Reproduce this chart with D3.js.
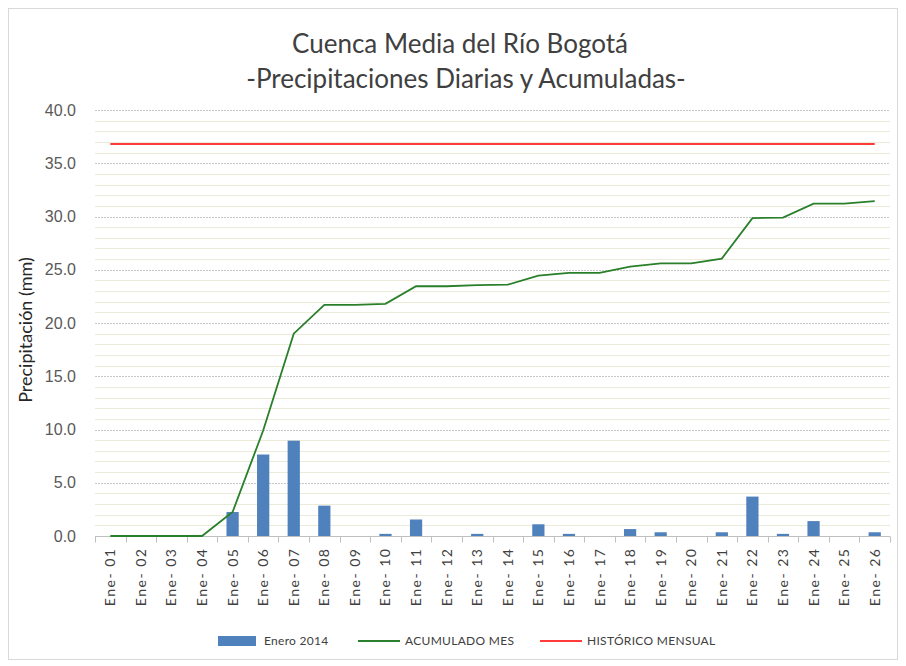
<!DOCTYPE html>
<html lang="es">
<head>
<meta charset="UTF-8">
<title>Cuenca Media del Río Bogotá</title>
<script src="https://d3js.org/d3.v7.min.js"></script>
<style>
  body { margin: 0; background: #fff; }
  svg { display: block; font-family: Lato, "Open Sans", sans-serif; }
</style>
</head>
<body>
<div id="chart"></div>
<script>
// Data
const days = ["Ene- 01","Ene- 02","Ene- 03","Ene- 04","Ene- 05","Ene- 06","Ene- 07","Ene- 08","Ene- 09",
  "Ene- 10","Ene- 11","Ene- 12","Ene- 13","Ene- 14","Ene- 15","Ene- 16","Ene- 17","Ene- 18","Ene- 19",
  "Ene- 20","Ene- 21","Ene- 22","Ene- 23","Ene- 24","Ene- 25","Ene- 26"];
const daily = [0, 0, 0, 0, 2.25, 7.65, 8.95, 2.85, 0, 0.2, 1.55, 0, 0.2, 0, 1.1, 0.2, 0, 0.65, 0.35, 0, 0.35, 3.7, 0.2, 1.4, 0, 0.35];
const acumulado = [0, 0, 0, 0, 2.25, 9.9, 19.0, 21.7, 21.7, 21.8, 23.45, 23.45, 23.55, 23.6, 24.45, 24.7, 24.7, 25.3, 25.6, 25.6, 26.05, 29.85, 29.9, 31.2, 31.2, 31.45];
const historico = 36.8;
const yTicks = [0, 5, 10, 15, 20, 25, 30, 35, 40];

const W = 906, H = 666;
const margin = {top: 110, right: 16, bottom: 130, left: 95};
const width = 890 - margin.left;
const height = 536 - margin.top;

const svg = d3.select("#chart").append("svg")
  .attr("width", W).attr("height", H);

// outer frame
svg.append("rect")
  .attr("x", 8.5).attr("y", 8.5).attr("width", 889).attr("height", 651)
  .attr("fill", "none").attr("stroke", "#d9d9d9");

// title
const title = svg.append("text")
  .attr("text-anchor", "middle")
  .attr("fill", "#404040")
  .style("font-size", "26px");
title.append("tspan").attr("x", 460).attr("y", 53).text("Cuenca Media del Río Bogotá");
title.append("tspan").attr("x", 466).attr("y", 88).text("-Precipitaciones Diarias y Acumuladas-");

const g = svg.append("g").attr("transform", `translate(${margin.left},${margin.top})`);

const x = d3.scaleBand().domain(days).range([0, width]).paddingInner(0.6).paddingOuter(0.3);
const xPoint = d3.scalePoint().domain(days).range([0, width]).padding(0.5);
const y = d3.scaleLinear().domain([0, 40]).range([height, 0]);

// minor gridlines
g.append("g")
  .selectAll("line")
  .data(d3.range(1, 41).filter(v => v % 5 !== 0))
  .join("line")
  .attr("x1", 0).attr("x2", width)
  .attr("y1", d => Math.round(y(d)) + 0.5).attr("y2", d => Math.round(y(d)) + 0.5)
  .attr("stroke", "#ecebd9").attr("stroke-width", 1);

// major gridlines
g.append("g")
  .selectAll("line")
  .data(yTicks.slice(1))
  .join("line")
  .attr("x1", 0).attr("x2", width)
  .attr("y1", d => Math.round(y(d)) + 0.5).attr("y2", d => Math.round(y(d)) + 0.5)
  .attr("stroke", "#c8c8c8").attr("stroke-dasharray", "2,1");

// y axis (labels only)
const yAxis = g.append("g")
  .call(d3.axisLeft(y).tickValues(yTicks).tickFormat(d3.format(".1f")).tickSize(0).tickPadding(19));
yAxis.select(".domain").remove();
yAxis.selectAll("text").attr("fill", "#595959").style("font-size", "16px");

// bars
g.append("g")
  .selectAll("rect")
  .data(daily.map((v, i) => ({day: days[i], v})))
  .join("rect")
  .attr("x", d => x(d.day))
  .attr("y", d => y(d.v))
  .attr("width", x.bandwidth())
  .attr("height", d => height - y(d.v))
  .attr("fill", "#4f81bd");

// x axis with ticks at category boundaries
const xb = d3.scaleBand().domain(days).range([0, width]);
const xAxis = g.append("g").attr("transform", `translate(0,${height + 0.5})`);
xAxis.append("line").attr("x1", 0).attr("x2", width).attr("stroke", "#bfbfbf");
xAxis.selectAll(".tk")
  .data(d3.range(days.length + 1))
  .join("line")
  .attr("class", "tk")
  .attr("x1", i => Math.round(i * xb.step()) + 0.5)
  .attr("x2", i => Math.round(i * xb.step()) + 0.5)
  .attr("y1", 0).attr("y2", 6)
  .attr("stroke", "#bfbfbf");
xAxis.selectAll(".lbl")
  .data(days)
  .join("text")
  .attr("class", "lbl")
  .attr("transform", d => `translate(${xPoint(d) + 5},11) rotate(-90)`)
  .attr("text-anchor", "end")
  .attr("fill", "#404040")
  .style("font-size", "14px")
  .style("letter-spacing", "1.5px")
  .text(d => d);

// lines
const line = d3.line().x((d, i) => xPoint(days[i])).y(d => y(d));
g.append("path")
  .datum(days.map(() => historico))
  .attr("d", line)
  .attr("fill", "none").attr("stroke", "#ff3b3b").attr("stroke-width", 2);
g.append("path")
  .datum(acumulado)
  .attr("d", line)
  .attr("fill", "none").attr("stroke", "#2a7f2a").attr("stroke-width", 1.8);

// y label
svg.append("text")
  .attr("transform", "translate(32,330) rotate(-90)")
  .attr("text-anchor", "middle")
  .attr("fill", "#262626")
  .style("font-size", "18px")
  .text("Precipitación (mm)");

// legend
const legendData = [
  {type: "bar", color: "#4f81bd", label: "Enero 2014", x: 218},
  {type: "line", color: "#2a7f2a", label: "ACUMULADO MES", x: 358},
  {type: "line", color: "#ff3b3b", label: "HISTÓRICO MENSUAL", x: 540}
];
const lg = svg.append("g").attr("transform", "translate(0,641)");
const items = lg.selectAll("g").data(legendData).join("g")
  .attr("transform", d => `translate(${d.x},0)`);
items.filter(d => d.type === "bar").append("rect")
  .attr("x", 0).attr("y", -5).attr("width", 38).attr("height", 10).attr("fill", d => d.color);
items.filter(d => d.type === "line").append("line")
  .attr("x1", 0).attr("x2", 42).attr("y1", 0).attr("y2", 0)
  .attr("stroke", d => d.color).attr("stroke-width", 2);
items.append("text")
  .attr("x", d => d.type === "bar" ? 46 : 47)
  .attr("y", 4)
  .attr("fill", "#404040")
  .style("font-size", "12px")
  .style("letter-spacing", "0.3px")
  .text(d => d.label);
</script>
</body>
</html>
